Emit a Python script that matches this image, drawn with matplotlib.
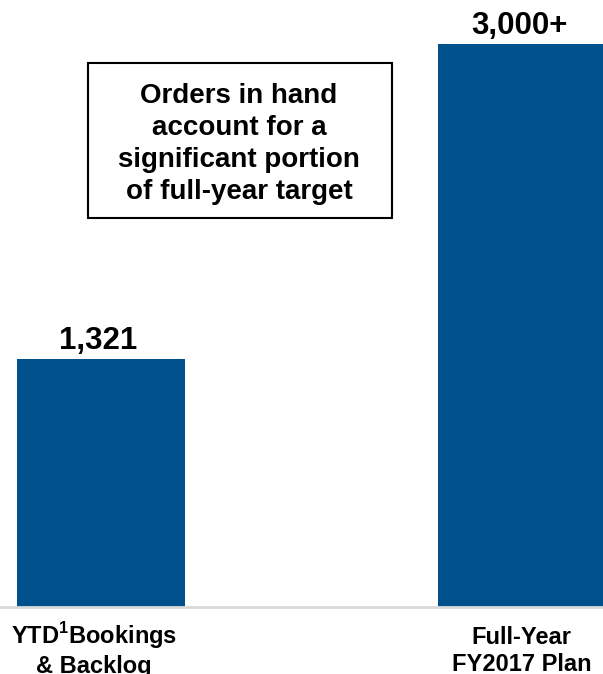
import matplotlib
matplotlib.use("Agg")
import matplotlib.pyplot as plt
from matplotlib.patches import Rectangle
from matplotlib.transforms import ScaledTranslation

plt.rcParams['font.family'] = ['Liberation Sans', 'DejaVu Sans']
plt.rcParams['font.weight'] = 'bold'
plt.rcParams['mathtext.fontset'] = 'custom'
plt.rcParams['mathtext.bf'] = 'Liberation Sans:bold'
plt.rcParams['mathtext.rm'] = 'Liberation Sans:bold'

# data
categories = ["YTD$^{\\mathbf{1}}$Bookings\n& Backlog", "Full-Year\nFY2017 Plan"]
values = [1321, 3000]
value_labels = ["1,321", "3,000+"]
note = "Orders in hand\naccount for a\nsignificant portion\nof full-year target"

bar_color = "#00508C"

fig = plt.figure(figsize=(6.03, 6.74), dpi=100)
ax = fig.add_axes([0, 67 / 674, 1, 607 / 674])

x = range(len(values))
bars = ax.bar(x, values, width=0.4, color=bar_color, zorder=2)
ax.set_xlim(-0.24, 1.193)
ax.set_ylim(0, 3232)

for b, lab in zip(bars, value_labels):
    ax.annotate(lab, (b.get_x() + b.get_width() / 2, b.get_height()),
                xytext=(-2, 2), textcoords="offset points",
                ha="center", va="bottom", fontsize=22.5, fontweight="bold")

ax.axhline(0, color="#d9d9d9", lw=2, zorder=3, clip_on=False)

for s in ax.spines.values():
    s.set_visible(False)
ax.set_yticks([])
ax.set_xticks(list(x))
ax.set_xticklabels(categories, fontsize=17, fontweight="bold", linespacing=1.2)
ax.tick_params(axis="x", length=0, pad=14)
lbl = ax.get_xticklabels()[0]
lbl.set_transform(lbl.get_transform() + ScaledTranslation(-0.07, 0.06, fig.dpi_scale_trans))

# note box
fig.patches.append(Rectangle((88 / 603, 1 - 218 / 674), 304 / 603, 155 / 674,
                             transform=fig.transFigure, fill=False,
                             edgecolor="black", lw=1.5))
fig.text(239 / 603, 1 - 144 / 674, note, ha="center", va="center",
         fontsize=20, fontweight="bold", linespacing=1.3)

fig.savefig("out.png", dpi=100)
